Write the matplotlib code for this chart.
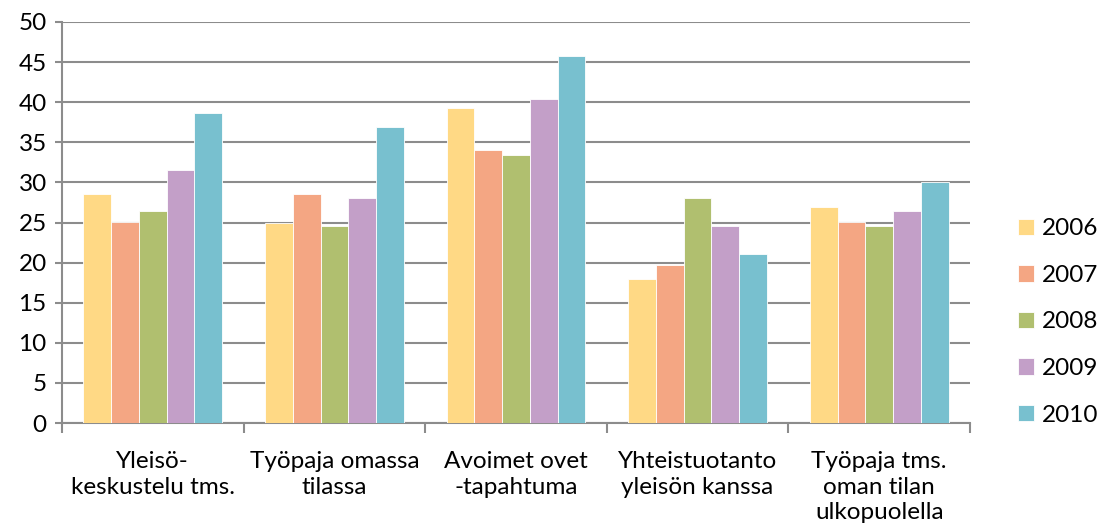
import matplotlib
matplotlib.use("Agg")
import matplotlib.pyplot as plt
import numpy as np

categories = ["Yleisö-\nkeskustelu tms.", "Työpaja omassa\ntilassa", "Avoimet ovet\n-tapahtuma",
              "Yhteistuotanto\nyleisön kanssa", "Työpaja tms.\noman tilan\nulkopuolella"]
years = ["2006", "2007", "2008", "2009", "2010"]
v2006 = [28.6, 25.0, 39.3, 18.0, 26.9]
v2007 = [25.1, 28.6, 34.0, 19.7, 25.1]
v2008 = [26.4, 24.6, 33.4, 28.1, 24.6]
v2009 = [31.6, 28.1, 40.4, 24.6, 26.4]
v2010 = [38.6, 36.9, 45.7, 21.1, 30.0]
series = [v2006, v2007, v2008, v2009, v2010]
colors = ["#FFD985", "#F4A683", "#B0BF6F", "#C39FC8", "#78C0CF"]
yticks = list(range(0, 51, 5))

plt.rcParams['font.family'] = ['Lato', 'DejaVu Sans']
FS = 17.5
fig = plt.figure(figsize=(10.99, 5.32), dpi=100)
ax = fig.add_axes([62/1099, 1-423/532, (970-62)/1099, (423-22)/532])

x = np.arange(len(categories))
w = 0.153
for i, (vals, c, yr) in enumerate(zip(series, colors, years)):
    ax.bar(x + (i - 2) * w, vals, width=w, color=c, edgecolor='white', linewidth=0.6, label=yr, zorder=3)

ax.set_xlim(-0.5, len(categories) - 0.5)
ax.set_ylim(0, 50)
ax.set_yticks(yticks)
ax.set_yticklabels([str(t) for t in yticks], fontsize=FS)
ax.yaxis.grid(True, color='#8c8c8c', linewidth=1.5, zorder=0)
ax.set_axisbelow(True)
for s in ['top', 'right']:
    ax.spines[s].set_visible(False)
for s in ['left', 'bottom']:
    ax.spines[s].set_color('#8c8c8c')
    ax.spines[s].set_linewidth(1.5)

ax.set_xticks(np.arange(-0.5, len(categories), 1.0))
ax.set_xticklabels([])
ax.tick_params(axis='x', length=7, color='#8c8c8c', width=1.5)
ax.tick_params(axis='y', length=5, color='#8c8c8c', width=1.5, pad=6)
ax.set_xticks(x, minor=True)
ax.set_xticklabels(categories, minor=True, fontsize=FS, linespacing=1.28, va='top')
ax.tick_params(axis='x', which='minor', length=0, pad=20)

handles, labels = ax.get_legend_handles_labels()
fig.legend(handles, labels, loc='center left', bbox_to_anchor=(1018/1099, 1-322/532),
           frameon=False, fontsize=FS, handlelength=0.65, handleheight=0.65,
           labelspacing=1.05, handletextpad=0.35, borderaxespad=0, borderpad=0)

fig.savefig("out.png", dpi=100)
